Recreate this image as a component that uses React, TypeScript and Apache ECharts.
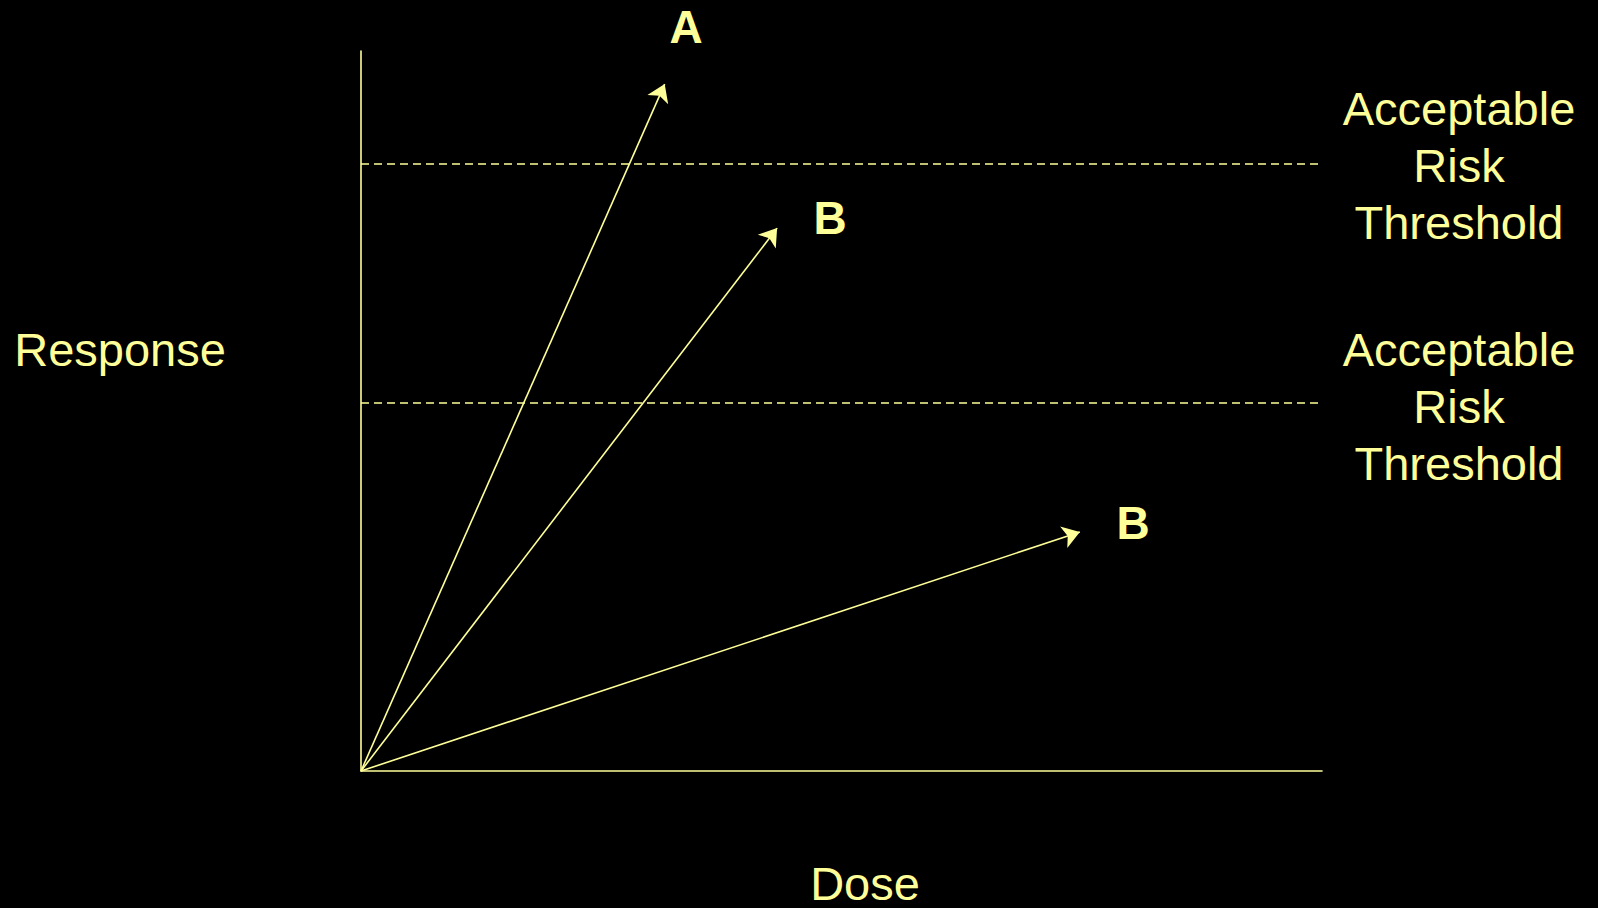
import React, { useEffect, useRef } from "react";
import * as echarts from "echarts";

const COLOR = "#FFFF99";
const FONT = "'Liberation Sans', Arial, sans-serif";

// Arrow end points (dose, response) in axis units 0..100
const arrowNames = ["A", "B", "B"];
const arrowDose = [31.6, 43.3, 74.8];
const arrowResponse = [95.4, 75.4, 33.2];

// Acceptable risk thresholds (response units)
const thresholds = [84.4, 51.1];
const thresholdLabel = "Acceptable\nRisk\nThreshold";

const xTitle = "Dose";
const yTitle = "Response";

export default function App() {
  const ref = useRef<HTMLDivElement>(null);

  useEffect(() => {
    document.body.style.margin = "0";
    document.body.style.background = "#000";
    if (!ref.current) return;
    const chart = echarts.init(ref.current, null, { renderer: "svg" });

    const arrowLines = arrowDose.map((x, i) => [
      { coord: [0, 0] },
      { coord: [x, arrowResponse[i]], name: arrowNames[i] },
    ]);
    const thresholdLines = thresholds.map((t) => [
      { coord: [0, t] },
      { coord: [100, t] },
    ]);

    const labelPos = [
      [686, 27],
      [830, 218],
      [1133, 523],
    ];

    chart.setOption({
      animation: false,
      backgroundColor: "#000000",
      grid: { left: 361, top: 51, right: 276, bottom: 137, containLabel: false },
      xAxis: {
        type: "value",
        min: 0,
        max: 100,
        axisLine: { show: true, onZero: false, lineStyle: { color: COLOR, width: 1.6 } },
        axisTick: { show: false },
        axisLabel: { show: false },
        splitLine: { show: false },
      },
      yAxis: {
        type: "value",
        min: 0,
        max: 100,
        axisLine: { show: true, onZero: false, lineStyle: { color: COLOR, width: 1.6 } },
        axisTick: { show: false },
        axisLabel: { show: false },
        splitLine: { show: false },
      },
      series: [
        {
          type: "line",
          data: [],
          silent: true,
          markLine: {
            silent: true,
            animation: false,
            symbol: ["none", "arrow"],
            symbolSize: 17,
            label: { show: false },
            lineStyle: { color: COLOR, width: 1.6, type: "solid" },
            itemStyle: { color: COLOR },
            data: arrowLines,
          },
        },
        {
          type: "line",
          data: [],
          silent: true,
          markLine: {
            silent: true,
            animation: false,
            symbol: ["none", "none"],
            label: { show: false },
            lineStyle: { color: COLOR, width: 1.5, type: [8, 5] },
            data: thresholdLines,
          },
        },
      ],
      graphic: [
        ...arrowNames.map((n, i) => ({
          type: "text",
          x: labelPos[i][0],
          y: labelPos[i][1],
          style: {
            text: n,
            fill: COLOR,
            font: `bold 46px ${FONT}`,
            textAlign: "center",
            textVerticalAlign: "middle",
          },
        })),
        ...[165, 406].map((y) => ({
          type: "text",
          x: 1459,
          y,
          style: {
            text: thresholdLabel,
            fill: COLOR,
            font: `47px ${FONT}`,
            lineHeight: 57,
            textAlign: "center",
            textVerticalAlign: "middle",
          },
        })),
        {
          type: "text",
          x: 120,
          y: 349,
          style: {
            text: yTitle,
            fill: COLOR,
            font: `47px ${FONT}`,
            textAlign: "center",
            textVerticalAlign: "middle",
          },
        },
        {
          type: "text",
          x: 865,
          y: 883,
          style: {
            text: xTitle,
            fill: COLOR,
            font: `47px ${FONT}`,
            textAlign: "center",
            textVerticalAlign: "middle",
          },
        },
      ],
    });

    return () => chart.dispose();
  }, []);

  return <div ref={ref} style={{ width: 1598, height: 908, background: "#000" }} />;
}
